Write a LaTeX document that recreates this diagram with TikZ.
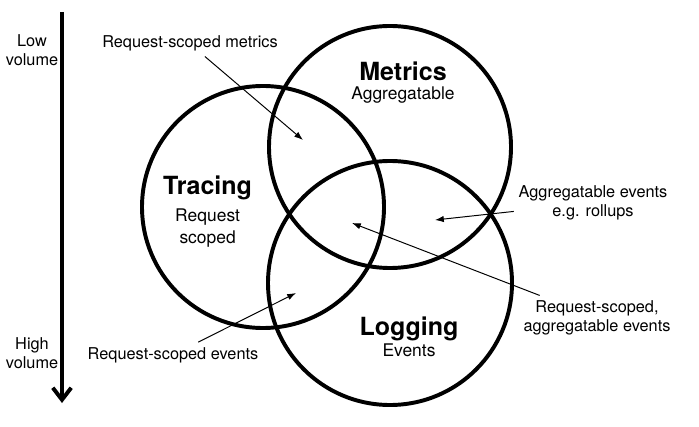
\documentclass[tikz,border=0pt]{standalone}
\usepackage{fontspec}
\setmainfont{TeX Gyre Heros}
\usetikzlibrary{arrows.meta}
\tikzset{
  ring/.style={draw=black,line width=2.8pt},
  title/.style={font=\fontsize{17.8}{20}\selectfont\bfseries,anchor=base},
  sub/.style={font=\fontsize{12.4}{15.6}\selectfont,align=center},
  note/.style={font=\fontsize{11.6}{13.5}\selectfont,align=center},
  pointer/.style={-{Latex[length=2.2mm,width=1.6mm]},line width=0.7pt},
}

\begin{document}
\begin{tikzpicture}
\useasboundingbox (0,0) rectangle (17.475,10.65);
\fill[white] (0,0) rectangle (17.475,10.65);
% volume axis
\coordinate (vtop) at (1.55,10.35);\coordinate (vbot) at (1.55,0.575);
\draw[line width=2.8pt,-{Straight Barb[length=3mm,width=4.6mm]}] (vtop)--(vbot);
\node[note] (low) at (0.8,9.4){Low\\volume};
\node[note] (high) at (0.8,1.825){High\\volume};
% the three circles
\draw[ring] (9.75,6.975) circle (3.025);
\draw[ring] (6.575,5.475) circle (3.025);
\draw[ring] (9.75,3.575) circle (3.05);
\node[title] (metrics) at (10.075,8.625){Metrics};
\node[sub,anchor=base] (metricssub) at (10.075,8.15){Aggregatable};
\node[title] (tracing) at (5.19,5.775){Tracing};
\node[sub] (tracingsub) at (5.19,4.96){Request\\scoped};
\node[title] (logging) at (10.225,2.275){Logging};
\node[sub,anchor=base] (loggingsub) at (10.225,1.75){Events};
% overlap notes
\coordinate (mt) at (7.575,7.15);\coordinate (ml) at (10.875,5.15);
\coordinate (mtl) at (8.8,5.075);\coordinate (tl) at (7.4,3.325);
\node[note,anchor=base] (rsmetrics) at (4.75,9.45){Request-scoped metrics};
\node[note] (aggevents) at (14.825,5.58){Aggregatable events\\e.g. rollups};
\node[note] (rsagg) at (14.925,2.71){Request-scoped,\\aggregatable events};
\node[note,anchor=base] (rsevents) at (4.325,1.675){Request-scoped events};
\draw[pointer] (rsmetrics)--(mt);
\draw[pointer] (aggevents)--(ml);
\draw[pointer] (rsagg)--(mtl);
\draw[pointer] (rsevents)--(tl);
\end{tikzpicture}
\end{document}
